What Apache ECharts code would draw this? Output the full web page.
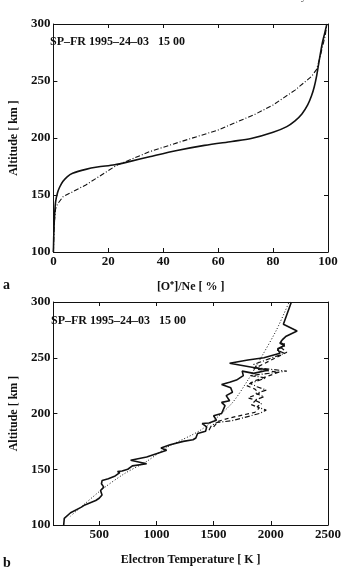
<!DOCTYPE html>
<html>
<head>
<meta charset="utf-8">
<script src="https://cdn.jsdelivr.net/npm/echarts@6/dist/echarts.min.js"></script>
<style>
  html, body { margin: 0; padding: 0; background: #fff; }
  #chart { width: 344px; height: 567px; }
</style>
</head>
<body>
<div id="chart"></div>
<script>
// panel a: [O+]/Ne (%) vs altitude (km)
const ratioSolid = [[0,100],[0.2,120],[0.5,135],[0.8,144],[1.5,152],[2.3,157],[3.5,162],[5,166],[7,169],[11.8,172.5],[16,174.5],[22.3,176.5],[28,179.5],[35,183.5],[45,189],[55,193.5],[65,197],[72,199.5],[80,205],[85,210],[88,215],[90.5,221],[92.6,229],[94,237],[95,245],[95.9,255],[96.6,265],[97.3,275],[98,284],[98.8,292],[99.6,300]]
const ratioDashDot = [[0,100],[0.3,125],[0.8,138],[1.5,142],[3.5,148.5],[11.8,158.8],[23,176],[35,188],[46,196.5],[60,207],[73.6,221],[80,229],[88,242],[94,254],[95.8,260],[97,270],[98,280],[99,290],[99.6,300]]
const ratioTicks = [0, 20, 40, 60, 80, 100]

// panel b: electron temperature (K) vs altitude (km)
const teSolid = [[190,100],[195,106],[250,111],[345,116],[375,118],[470,122],[500,124],[525,127],[512,131],[540,134],[520,137],[526,140],[580,141.5],[640,144],[680,147],[660,148],[700,148.5],[750,150],[790,153],[915,155],[775,158],[915,161],[1000,164],[1090,167],[1040,169],[1120,172],[1235,175],[1320,176.5],[1345,178],[1360,182],[1430,184],[1440,188],[1400,191],[1460,191.5],[1525,194],[1500,198],[1570,200],[1600,207],[1570,210],[1640,211.5],[1610,216],[1665,219],[1650,223],[1570,226],[1640,228],[1700,230],[1760,234],[1750,238],[1850,236],[1980,239],[1860,241],[1640,245],[1800,248],[1940,250],[2080,254],[2060,258],[2120,261],[2080,263],[2100,266],[2130,269],[2230,274],[2110,280],[2180,300]]
const teModel = [[250,108],[347,116.6],[526,132],[720,146],[914,157],[1100,170],[1400,186],[1650,208],[1800,230],[1920,251],[2050,275],[2160,300]]
const teDashDot = [[1460,185],[1480,189],[1530,192],[1660,193.5],[1900,200],[1960,203],[1880,206],[1920,209],[1860,212],[1940,215],[1870,218],[1960,221],[1880,224],[1820,227],[1960,232],[1820,234],[2140,238],[1880,241],[1850,244],[2120,254],[2050,257],[2130,261],[2080,264],[2110,267]]
const teDashed = [[1500,188],[1540,193],[1640,196],[1860,201],[1900,205],[1830,208],[1870,212],[1800,214],[1900,218],[1860,222],[1790,225],[1850,229],[2070,237],[1850,240],[2140,255],[2090,259],[2120,263]]
const teTicks = [500, 1000, 1500, 2000, 2500]

const altTicks = [100, 150, 200, 250, 300]
const titleText = 'SP–FR 1995–24–03   15 00'

const font = 'Liberation Serif'
const black = '#111'
const plain = v => String(v)

function xAxisBottom(grid, min, max, ticks, name) {
  return {
    gridIndex: grid, type: 'value', position: 'bottom', min: min, max: max,
    axisLine: { show: true, onZero: false, lineStyle: { color: black, width: 1 } },
    axisTick: { inside: true, length: 4, lineStyle: { color: black }, customValues: ticks },
    axisLabel: { color: black, fontFamily: font, fontWeight: 'bold', fontSize: 13, margin: 3, customValues: ticks, formatter: plain },
    splitLine: { show: false },
    name: name, nameLocation: 'middle', nameGap: 29,
    nameTextStyle: { color: black, fontFamily: font, fontWeight: 'bold', fontSize: 12 }
  }
}
function xAxisTop(grid, min, max, ticks) {
  return {
    gridIndex: grid, type: 'value', position: 'top', min: min, max: max,
    axisLine: { show: true, onZero: false, lineStyle: { color: black, width: 1 } },
    axisTick: { inside: true, length: 4, lineStyle: { color: black }, customValues: ticks },
    axisLabel: { show: false },
    splitLine: { show: false }
  }
}
function yAxisLeft(grid) {
  return {
    gridIndex: grid, type: 'value', position: 'left', min: 100, max: 300,
    axisLine: { show: true, onZero: false, lineStyle: { color: black, width: 1 } },
    axisTick: { inside: true, length: 4, lineStyle: { color: black }, customValues: altTicks },
    axisLabel: { color: black, fontFamily: font, fontWeight: 'bold', fontSize: 13, margin: 3, customValues: altTicks, formatter: plain },
    splitLine: { show: false },
    name: 'Altitude [ km ]', nameLocation: 'middle', nameGap: 30, nameRotate: 90,
    nameTextStyle: { color: black, fontFamily: font, fontWeight: 'bold', fontSize: 12 }
  }
}
function yAxisRight(grid) {
  return {
    gridIndex: grid, type: 'value', position: 'right', min: 100, max: 300,
    axisLine: { show: true, onZero: false, lineStyle: { color: black, width: 1 } },
    axisTick: { inside: true, length: 4, lineStyle: { color: black }, customValues: altTicks },
    axisLabel: { show: false },
    splitLine: { show: false }
  }
}
function line(xi, yi, data, type, width, smooth) {
  return {
    type: 'line', xAxisIndex: xi, yAxisIndex: yi, data: data,
    showSymbol: false, smooth: smooth || false,
    lineStyle: { color: black, width: width, type: type }
  }
}

const chart = echarts.init(document.getElementById('chart'))
chart.setOption({
  animation: false,
  backgroundColor: '#fff',
  grid: [
    { left: 40, top: 24, width: 288, height: 228 },
    { left: 40, top: 302, width: 289, height: 229 }
  ],
  xAxis: [
    xAxisBottom(0, 0, 100, ratioTicks, '[O⁺]/Ne [ % ]'),
    xAxisTop(0, 0, 100, ratioTicks),
    xAxisBottom(1, 100, 2500, teTicks, 'Electron Temperature [ K ]'),
    xAxisTop(1, 100, 2500, teTicks)
  ],
  yAxis: [yAxisLeft(0), yAxisRight(0), yAxisLeft(1), yAxisRight(1)],
  series: [
    line(0, 0, ratioSolid, 'solid', 1.6, 0.3),
    line(0, 0, ratioDashDot, [5, 2, 1, 2], 1.1),
    line(2, 2, teModel, [1, 2], 1, 0.3),
    line(2, 2, teDashDot, [5, 2, 1, 2], 1.2),
    line(2, 2, teDashed, [4, 3], 1.2),
    line(2, 2, teSolid, 'solid', 1.6)
  ],
  graphic: [
    { type: 'text', left: 50, top: 36, style: { text: titleText, fill: black, font: 'bold 12px "Liberation Serif"' } },
    { type: 'text', left: 51, top: 315, style: { text: titleText, fill: black, font: 'bold 12px "Liberation Serif"' } },
    { type: 'text', left: 3, top: 278, style: { text: 'a', fill: black, font: 'bold 14px "Liberation Serif"' } },
    { type: 'text', left: 3, top: 556, style: { text: 'b', fill: black, font: 'bold 14px "Liberation Serif"' } },
    { type: 'text', left: 3, top: -8, style: { text: '1000', fill: '#444', font: '11px "Liberation Serif"' } },
    { type: 'text', left: 256, top: -8, style: { text: 'P.-L. Blelly et al.', fill: '#444', font: '11px "Liberation Serif"' } }
  ]
})
</script>
</body>
</html>
